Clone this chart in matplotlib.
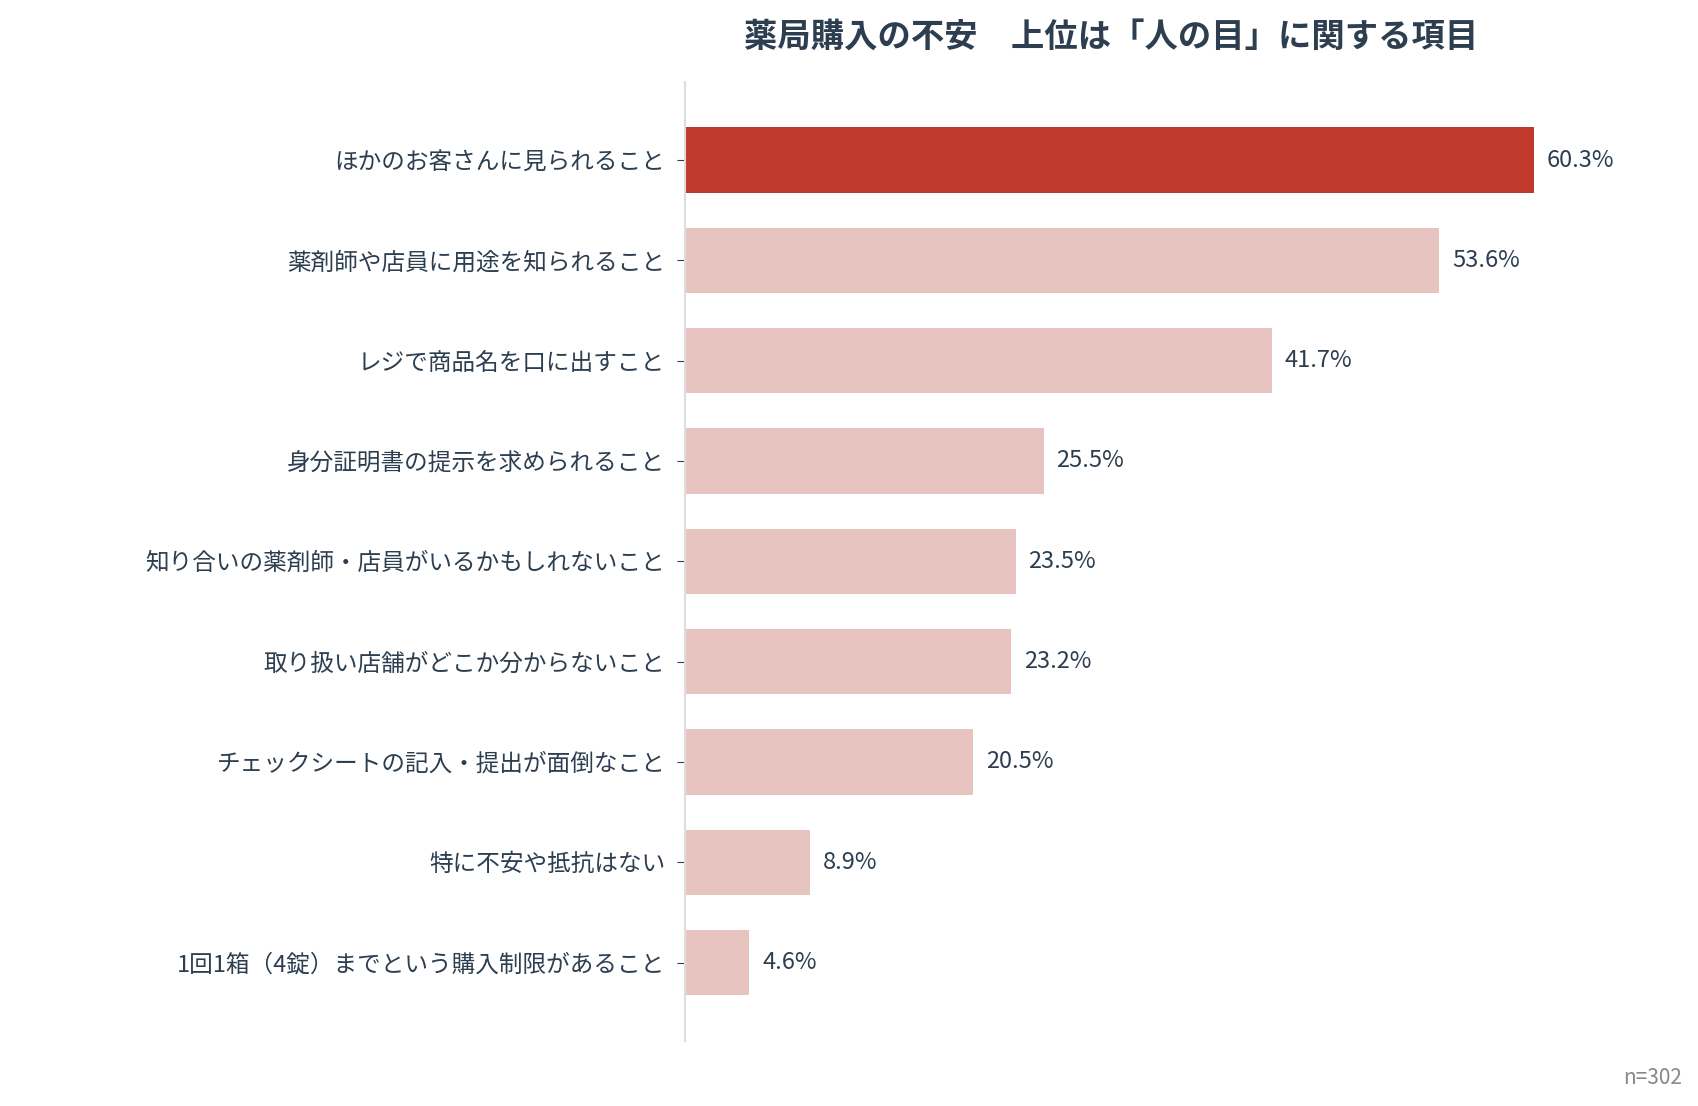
import matplotlib.pyplot as plt

plt.rcParams['font.family'] = ['Noto Sans CJK JP', 'DejaVu Sans']

labels = ['ほかのお客さんに見られること', '薬剤師や店員に用途を知られること', 'レジで商品名を口に出すこと',
          '身分証明書の提示を求められること', '知り合いの薬剤師・店員がいるかもしれないこと',
          '取り扱い店舗がどこか分からないこと', 'チェックシートの記入・提出が面倒なこと',
          '特に不安や抵抗はない', '1回1箱（4錠）までという購入制限があること']
values = [60.3, 53.6, 41.7, 25.5, 23.5, 23.2, 20.5, 8.9, 4.6]

text_c = '#2c3e50'
fig = plt.figure(figsize=(16.99, 11.06), dpi=100)
ax = fig.add_axes([0.403, 0.059, 0.547, 0.867])
pos = list(range(len(values)))
colors = ['#c0392b'] + ['#e8c4c0'] * (len(values) - 1)
ax.barh(pos, values, height=0.65, color=colors)
for p, v in zip(pos, values):
    ax.text(v + 0.9, p, f'{v}%', va='center', ha='left', fontsize=17, color=text_c)
ax.set_yticks(pos)
ax.set_yticklabels(labels, fontsize=17, color=text_c)
ax.set_ylim(8.78, -0.78)
ax.set_xlim(0, 66)
ax.set_xticks([])
for s in ['top', 'right', 'bottom']:
    ax.spines[s].set_visible(False)
ax.spines['left'].set_color('#dddddd')
ax.spines['left'].set_linewidth(1.5)
ax.tick_params(axis='y', length=6, color=text_c, pad=8)
fig.text(0.654, 0.966, '薬局購入の不安　上位は「人の目」に関する項目', ha='center', va='center',
         fontsize=24, fontweight='bold', color=text_c)
fig.text(0.99, 0.025, 'n=302', ha='right', va='center', fontsize=15, color='#888888')
fig.savefig('out.png')
